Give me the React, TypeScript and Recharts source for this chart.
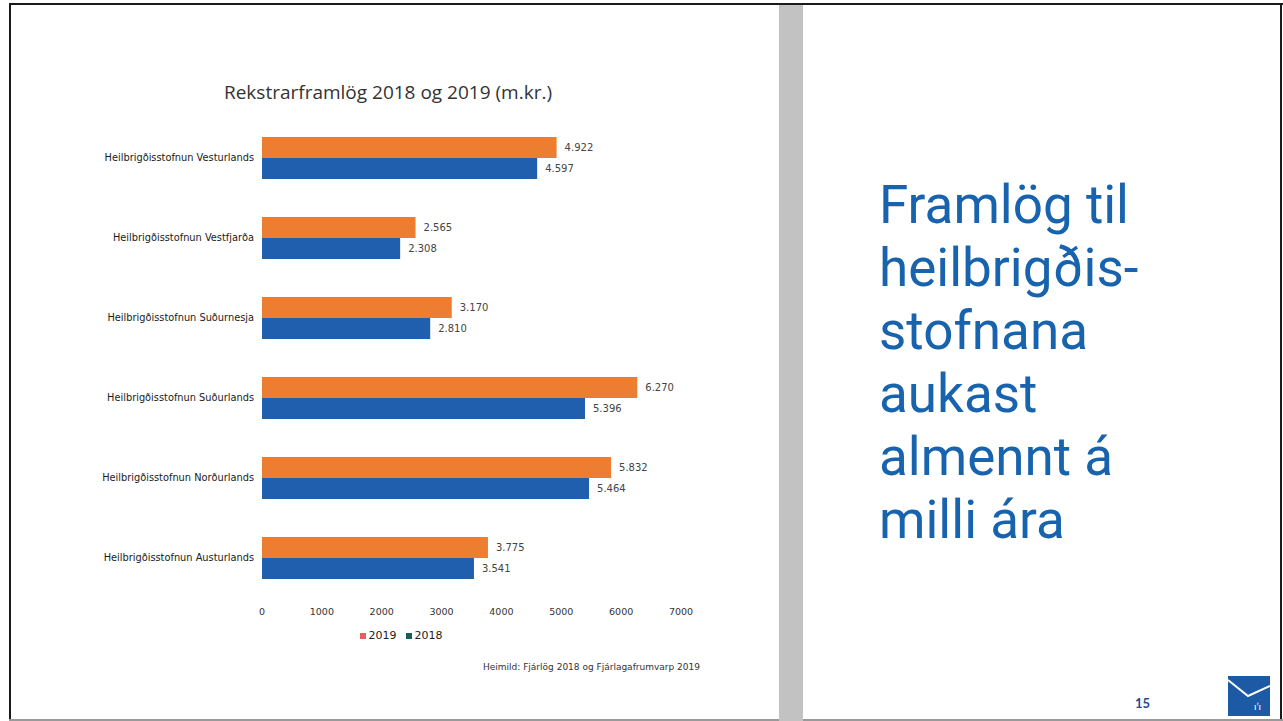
import { BarChart, Bar, XAxis, YAxis, LabelList } from 'recharts'

// ── Data ──────────────────────────────────────────────────────────────────────

const institutions = [
  'Heilbrigðisstofnun Vesturlands',
  'Heilbrigðisstofnun Vestfjarða',
  'Heilbrigðisstofnun Suðurnesja',
  'Heilbrigðisstofnun Suðurlands',
  'Heilbrigðisstofnun Norðurlands',
  'Heilbrigðisstofnun Austurlands',
]
const values2019 = [4922, 2565, 3170, 6270, 5832, 3775]
const values2018 = [4597, 2308, 2810, 5396, 5464, 3541]
const xTicks = [0, 1000, 2000, 3000, 4000, 5000, 6000, 7000]

const headline = ['Framlög til', 'heilbrigðis-', 'stofnana', 'aukast', 'almennt á', 'milli ára']

const ORANGE = '#ED7D31'
const BLUE = '#1F5FAE'
const TEXT_BLUE = '#1763AE'
const SMALL_FONT = '"DejaVu Sans", sans-serif'

const data = institutions.map((name, i) => ({
  name,
  y2019: values2019[i],
  y2018: values2018[i],
}))

const dotThousands = (v: any) => Number(v).toLocaleString('de-DE')

// ── Legend ────────────────────────────────────────────────────────────────────

function SlideLegend() {
  const items = [
    { label: '2019', color: '#E2625A' },
    { label: '2018', color: '#1A5E5C' },
  ]
  return (
    <div style={{ display: 'flex', justifyContent: 'center', gap: 9, fontFamily: SMALL_FONT, fontSize: 11, color: '#222' }}>
      {items.map((it) => (
        <span key={it.label} style={{ display: 'flex', alignItems: 'center', gap: 3 }}>
          <span style={{ width: 6, height: 6, background: it.color, display: 'inline-block' }} />
          {it.label}
        </span>
      ))}
    </div>
  )
}

// ── Chart ─────────────────────────────────────────────────────────────────────

function FundingChart() {
  const labelStyle = { fill: '#444', fontSize: 10, fontFamily: SMALL_FONT }
  return (
    <BarChart
      width={760}
      height={700}
      data={data}
      layout="vertical"
      barGap={0}
      barSize={21}
      margin={{ top: 118, right: 79, left: 0, bottom: 72 }}
    >
      <text x={388} y={99} textAnchor="middle" fontFamily="'Open Sans', sans-serif" fontSize={19} fill="#333">
        Rekstrarframlög 2018 og 2019 (m.kr.)
      </text>
      <XAxis
        type="number"
        domain={[0, 7000]}
        ticks={xTicks}
        interval={0}
        axisLine={false}
        tickLine={false}
        tickMargin={4}
        tick={{ fill: '#333', fontSize: 9.5, fontFamily: SMALL_FONT }}
      />
      <YAxis
        type="category"
        dataKey="name"
        width={262}
        axisLine={false}
        tickLine={false}
        tick={{ fill: '#1a1a1a', fontSize: 9.8, fontFamily: SMALL_FONT }}
      />
      <Bar dataKey="y2019" name="2019" fill={ORANGE} isAnimationActive={false}>
        <LabelList dataKey="y2019" position="right" offset={8} formatter={dotThousands} style={labelStyle} />
      </Bar>
      <Bar dataKey="y2018" name="2018" fill={BLUE} isAnimationActive={false}>
        <LabelList dataKey="y2018" position="right" offset={8} formatter={dotThousands} style={labelStyle} />
      </Bar>
    </BarChart>
  )
}

export default function App() {
  return (
    <div style={{ position: 'fixed', left: 0, top: 0, width: 1283, height: 721, background: '#fff', overflow: 'hidden' }}>
      {/* slide frame */}
      <div style={{ position: 'absolute', left: 9, top: 3, width: 1274, height: 2, background: '#1a1a1a' }} />
      <div style={{ position: 'absolute', left: 9, top: 3, width: 2, height: 718, background: '#1a1a1a' }} />
      <div style={{ position: 'absolute', left: 1280, top: 3, width: 2, height: 718, background: '#1a1a1a' }} />
      <div style={{ position: 'absolute', left: 9, top: 719, width: 1274, height: 2, background: '#9a9a9a' }} />
      <div style={{ position: 'absolute', left: 779, top: 5, width: 24, height: 716, background: '#c2c2c2' }} />

      <div style={{ position: 'absolute', left: 0, top: 0 }}>
        <FundingChart />
      </div>

      <div style={{ position: 'absolute', left: 191, width: 420, top: 629 }}>
        <SlideLegend />
      </div>

      <div style={{ position: 'absolute', right: 583, top: 662, fontFamily: SMALL_FONT, fontSize: 9, color: '#333', whiteSpace: 'nowrap' }}>
        Heimild: Fjárlög 2018 og Fjárlagafrumvarp 2019
      </div>

      <div style={{ position: 'absolute', left: 879, top: 174, fontFamily: 'Roboto, sans-serif', fontSize: 53, lineHeight: '63px', color: TEXT_BLUE }}>
        {headline.map((line) => (
          <div key={line}>{line}</div>
        ))}
      </div>

      <div style={{ position: 'absolute', left: 1135, top: 695, fontFamily: 'Lato, sans-serif', fontSize: 13, fontWeight: 700, color: '#1e4f8a' }}>
        15
      </div>
      <svg style={{ position: 'absolute', left: 1228, top: 676 }} width={42} height={40}>
        <rect x={0} y={0} width={42} height={40} fill="#1c5aa6" />
        <polyline points="0,4 20,20 42,10" fill="none" stroke="#fff" strokeWidth={2} />
        <text x={26} y={34} fill="#fff" fontSize={10} fontFamily="Lato, sans-serif">ıʼı</text>
      </svg>
    </div>
  )
}
